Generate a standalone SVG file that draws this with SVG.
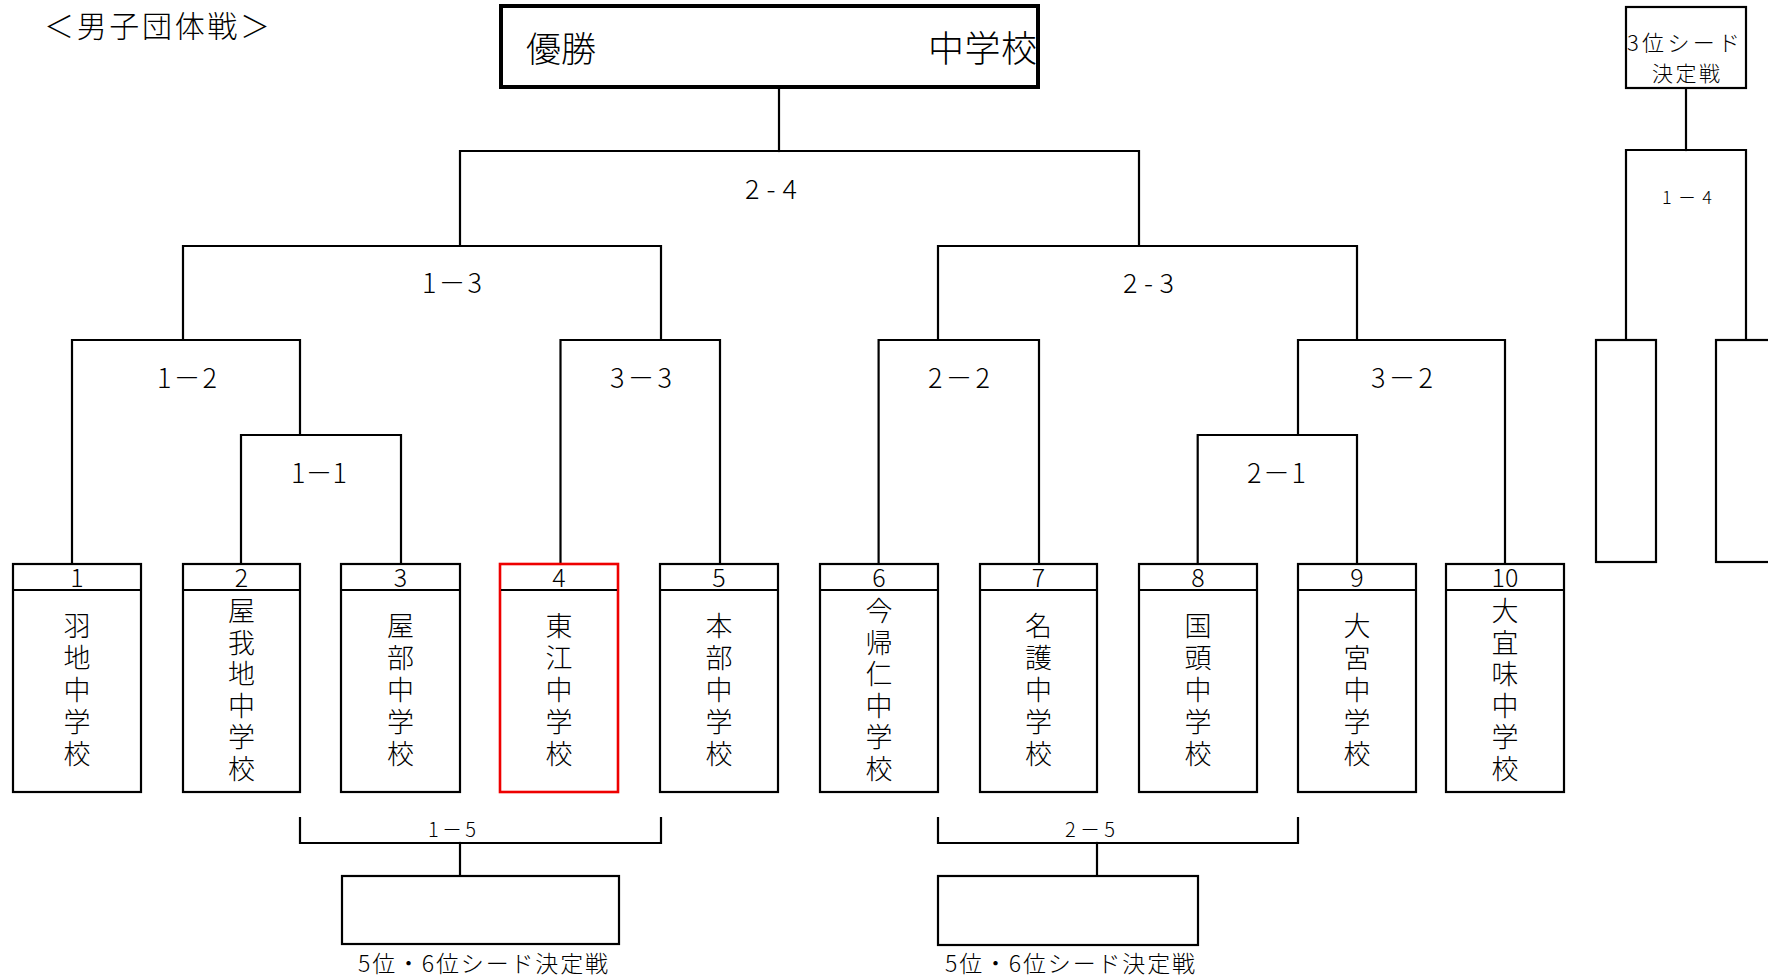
<svg xmlns="http://www.w3.org/2000/svg" width="1768" height="977" viewBox="0 0 1768 977">
<style>
text{font-family:"Noto Sans CJK JP","Noto Sans",sans-serif;fill:#000;font-weight:300}
.ln{stroke:#000;stroke-width:2.2;fill:none;stroke-linecap:square}
.bx{fill:#fff;stroke:#000;stroke-width:2.2}
.red{stroke:#ee0000;stroke-width:2.6}
.hd{stroke:#000;stroke-width:2.2}
.num{font-size:25px;text-anchor:middle}
.nm{font-size:27px;text-anchor:middle}
.sc{font-size:27px}
.ss{font-size:20px}
</style>
<rect width="1768" height="977" fill="#fff"/>
<text x="44" y="37" font-size="30" textLength="226" lengthAdjust="spacing">＜男子団体戦＞</text>

<g id="connectors">
<path class="ln" d="M72 564V340H300V435"/>
<path class="ln" d="M241 564V435H401V564"/>
<path class="ln" d="M183 340V246H661V340"/>
<path class="ln" d="M560.5 564V340H720V564"/>
<path class="ln" d="M460 246V151H1139V246"/>
<path class="ln" d="M779 151V87"/>
<path class="ln" d="M938 340V246H1357V340"/>
<path class="ln" d="M878.6 564V340H1039V564"/>
<path class="ln" d="M1298 435V340H1505V564"/>
<path class="ln" d="M1197.7 564V435H1357V564"/>
<path class="ln" d="M1686 88V150"/>
<path class="ln" d="M1626 340V150H1746V340"/>
<path class="ln" d="M300 818V843H661V818"/>
<path class="ln" d="M460 843V876"/>
<path class="ln" d="M938 818V843H1298V818"/>
<path class="ln" d="M1097 843V876"/>
</g>

<g id="labels">
<text class="sc" x="745" y="199" font-size="28" textLength="52" lengthAdjust="spacing">2-4</text>
<text class="sc" x="422" y="293" textLength="60" lengthAdjust="spacing">1－3</text>
<text class="sc" x="1123" y="293" textLength="51" lengthAdjust="spacing">2-3</text>
<text class="sc" x="157" y="388" textLength="60" lengthAdjust="spacing">1－2</text>
<text class="sc" x="610" y="388" textLength="62" lengthAdjust="spacing">3－3</text>
<text class="sc" x="928" y="388" textLength="62" lengthAdjust="spacing">2－2</text>
<text class="sc" x="1371" y="388" textLength="62" lengthAdjust="spacing">3－2</text>
<text class="sc" x="291" y="483" textLength="56" lengthAdjust="spacing">1－1</text>
<text class="sc" x="1247" y="483" textLength="59" lengthAdjust="spacing">2－1</text>
<text x="1662" y="204" font-size="18" textLength="50" lengthAdjust="spacing">1－4</text>
<text class="ss" x="428" y="837" textLength="48" lengthAdjust="spacing">1－5</text>
<text class="ss" x="1065" y="837" textLength="50" lengthAdjust="spacing">2－5</text>
</g>

<g id="winner">
<rect x="501" y="6" width="537" height="81" fill="#fff" stroke="#000" stroke-width="4"/>
<text x="526" y="62" font-size="35" textLength="70" lengthAdjust="spacing">優勝</text>
<text x="928" y="62" font-size="36" textLength="109" lengthAdjust="spacing">中学校</text>
</g>

<g id="third-place">
<rect class="bx" x="1626" y="7" width="120" height="81"/>
<text x="1627" y="51" font-size="22" textLength="113" lengthAdjust="spacing">3位シード</text>
<text x="1652" y="81" font-size="21" textLength="68" lengthAdjust="spacing">決定戦</text>
</g>
<g id="third-a"><rect class="bx" x="1596" y="340" width="60" height="222"/></g>
<g id="third-b"><rect class="bx" x="1716" y="340" width="70" height="222"/></g>

<g id="team1">
<rect class="bx" x="13" y="564" width="128" height="228"/><line class="hd" x1="13" y1="590" x2="141" y2="590"/>
<text class="num" x="77" y="587">1</text>
<text class="nm"><tspan x="77" y="636">羽</tspan><tspan x="77" y="668">地</tspan><tspan x="77" y="700">中</tspan><tspan x="77" y="732">学</tspan><tspan x="77" y="764">校</tspan></text>
</g>
<g id="team2">
<rect class="bx" x="183" y="564" width="117" height="228"/><line class="hd" x1="183" y1="590" x2="300" y2="590"/>
<text class="num" x="241.5" y="587">2</text>
<text class="nm"><tspan x="241.5" y="621">屋</tspan><tspan x="241.5" y="652.6">我</tspan><tspan x="241.5" y="684.2">地</tspan><tspan x="241.5" y="715.8">中</tspan><tspan x="241.5" y="747.4">学</tspan><tspan x="241.5" y="779">校</tspan></text>
</g>
<g id="team3">
<rect class="bx" x="341" y="564" width="119" height="228"/><line class="hd" x1="341" y1="590" x2="460" y2="590"/>
<text class="num" x="400.5" y="587">3</text>
<text class="nm"><tspan x="400.5" y="636">屋</tspan><tspan x="400.5" y="668">部</tspan><tspan x="400.5" y="700">中</tspan><tspan x="400.5" y="732">学</tspan><tspan x="400.5" y="764">校</tspan></text>
</g>
<g id="team4">
<rect class="bx red" x="500" y="564" width="118" height="228"/><line class="hd" x1="501" y1="590" x2="617" y2="590"/>
<text class="num" x="559" y="587">4</text>
<text class="nm"><tspan x="559" y="636">東</tspan><tspan x="559" y="668">江</tspan><tspan x="559" y="700">中</tspan><tspan x="559" y="732">学</tspan><tspan x="559" y="764">校</tspan></text>
</g>
<g id="team5">
<rect class="bx" x="660" y="564" width="118" height="228"/><line class="hd" x1="660" y1="590" x2="778" y2="590"/>
<text class="num" x="719" y="587">5</text>
<text class="nm"><tspan x="719" y="636">本</tspan><tspan x="719" y="668">部</tspan><tspan x="719" y="700">中</tspan><tspan x="719" y="732">学</tspan><tspan x="719" y="764">校</tspan></text>
</g>
<g id="team6">
<rect class="bx" x="820" y="564" width="118" height="228"/><line class="hd" x1="820" y1="590" x2="938" y2="590"/>
<text class="num" x="879" y="587">6</text>
<text class="nm"><tspan x="879" y="621">今</tspan><tspan x="879" y="652.6">帰</tspan><tspan x="879" y="684.2">仁</tspan><tspan x="879" y="715.8">中</tspan><tspan x="879" y="747.4">学</tspan><tspan x="879" y="779">校</tspan></text>
</g>
<g id="team7">
<rect class="bx" x="980" y="564" width="117" height="228"/><line class="hd" x1="980" y1="590" x2="1097" y2="590"/>
<text class="num" x="1038.5" y="587">7</text>
<text class="nm"><tspan x="1038.5" y="636">名</tspan><tspan x="1038.5" y="668">護</tspan><tspan x="1038.5" y="700">中</tspan><tspan x="1038.5" y="732">学</tspan><tspan x="1038.5" y="764">校</tspan></text>
</g>
<g id="team8">
<rect class="bx" x="1139" y="564" width="118" height="228"/><line class="hd" x1="1139" y1="590" x2="1257" y2="590"/>
<text class="num" x="1198" y="587">8</text>
<text class="nm"><tspan x="1198" y="636">国</tspan><tspan x="1198" y="668">頭</tspan><tspan x="1198" y="700">中</tspan><tspan x="1198" y="732">学</tspan><tspan x="1198" y="764">校</tspan></text>
</g>
<g id="team9">
<rect class="bx" x="1298" y="564" width="118" height="228"/><line class="hd" x1="1298" y1="590" x2="1416" y2="590"/>
<text class="num" x="1357" y="587">9</text>
<text class="nm"><tspan x="1357" y="636">大</tspan><tspan x="1357" y="668">宮</tspan><tspan x="1357" y="700">中</tspan><tspan x="1357" y="732">学</tspan><tspan x="1357" y="764">校</tspan></text>
</g>
<g id="team10">
<rect class="bx" x="1446" y="564" width="118" height="228"/><line class="hd" x1="1446" y1="590" x2="1564" y2="590"/>
<text class="num" x="1505" y="587">10</text>
<text class="nm"><tspan x="1505" y="621">大</tspan><tspan x="1505" y="652.6">宜</tspan><tspan x="1505" y="684.2">味</tspan><tspan x="1505" y="715.8">中</tspan><tspan x="1505" y="747.4">学</tspan><tspan x="1505" y="779">校</tspan></text>
</g>

<g id="seed-left">
<rect class="bx" x="342" y="876" width="277" height="68"/>
<text x="358" y="972" font-size="23" textLength="250" lengthAdjust="spacing">5位・6位シード決定戦</text>
</g>
<g id="seed-right">
<rect class="bx" x="938" y="876" width="260" height="69"/>
<text x="945" y="972" font-size="23" textLength="250" lengthAdjust="spacing">5位・6位シード決定戦</text>
</g>
</svg>
